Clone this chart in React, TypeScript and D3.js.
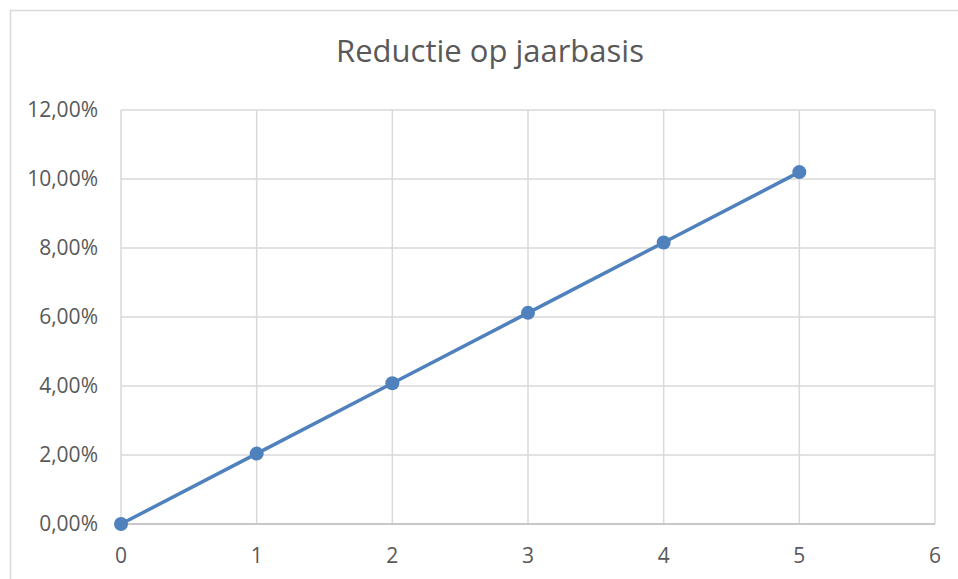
import React, { useRef, useEffect } from 'react'
import * as d3 from 'd3'

// jaar en reductie (als fractie)
const years = [0, 1, 2, 3, 4, 5]
const reduction = [0, 0.0204, 0.0408, 0.0612, 0.0816, 0.102]
const xTicks = [0, 1, 2, 3, 4, 5, 6]
const yTicks = [0, 0.02, 0.04, 0.06, 0.08, 0.1, 0.12]

const title = 'Reductie op jaarbasis'

const App = () => {
  const svgRef = useRef<SVGSVGElement>(null)

  useEffect(() => {
    const width = 958
    const height = 579
    const margin = { top: 110, right: 23, bottom: 55, left: 121 }
    const font = "'Open Sans', sans-serif"
    const textColor = '#595959'
    const gridColor = '#d9d9d9'
    const lineColor = '#4f81bd'

    const svg = d3.select(svgRef.current)
    svg.selectAll('*').remove()
    svg.attr('width', width).attr('height', height)

    svg.append('rect')
      .attr('width', width).attr('height', height)
      .attr('fill', '#fff')

    // chart area border (goes off the picture to the right and bottom)
    svg.append('rect')
      .attr('x', 10.5).attr('y', 10.5)
      .attr('width', 1000).attr('height', 1000)
      .attr('fill', 'none')
      .attr('stroke', gridColor)
      .attr('stroke-width', 1.5)

    const x = d3.scaleLinear()
      .domain([0, 6])
      .range([margin.left, width - margin.right])

    const y = d3.scaleLinear()
      .domain([0, 0.12])
      .range([height - margin.bottom, margin.top])

    const fmt = (v: number) => (v * 100).toFixed(2).replace('.', ',') + '%'

    // grid
    const grid = svg.append('g').attr('stroke', gridColor).attr('stroke-width', 1.5)
    grid.selectAll('line.h')
      .data(yTicks)
      .join('line')
      .attr('class', 'h')
      .attr('x1', x(0)).attr('x2', x(6))
      .attr('y1', d => y(d)).attr('y2', d => y(d))
    grid.selectAll('line.v')
      .data(xTicks)
      .join('line')
      .attr('class', 'v')
      .attr('x1', d => x(d)).attr('x2', d => x(d))
      .attr('y1', y(0)).attr('y2', y(0.12))

    // bottom axis line a bit darker
    svg.append('line')
      .attr('x1', x(0)).attr('x2', x(6))
      .attr('y1', y(0)).attr('y2', y(0))
      .attr('stroke', '#bfbfbf')
      .attr('stroke-width', 1.5)

    // tick labels
    svg.append('g')
      .attr('font-family', font)
      .attr('font-size', 21)
      .attr('fill', textColor)
      .attr('text-anchor', 'end')
      .selectAll('text')
      .data(yTicks)
      .join('text')
      .attr('x', 98)
      .attr('y', d => y(d))
      .attr('dy', '0.35em')
      .text(d => fmt(d))

    svg.append('g')
      .attr('font-family', font)
      .attr('font-size', 21)
      .attr('fill', textColor)
      .attr('text-anchor', 'middle')
      .selectAll('text')
      .data(xTicks)
      .join('text')
      .attr('x', d => x(d))
      .attr('y', 556)
      .attr('dy', '0.35em')
      .text(d => d)

    // title
    svg.append('text')
      .attr('x', 490)
      .attr('y', 62)
      .attr('text-anchor', 'middle')
      .attr('font-family', font)
      .attr('font-size', 31)
      .attr('fill', textColor)
      .text(title)

    const data = years.map((yr, i) => ({ yr, v: reduction[i] }))

    const line = d3.line<{ yr: number; v: number }>()
      .x(d => x(d.yr))
      .y(d => y(d.v))

    svg.append('path')
      .datum(data)
      .attr('d', line)
      .attr('fill', 'none')
      .attr('stroke', lineColor)
      .attr('stroke-width', 3.5)
      .attr('stroke-linejoin', 'round')

    svg.append('g')
      .selectAll('circle')
      .data(data)
      .join('circle')
      .attr('cx', d => x(d.yr))
      .attr('cy', d => y(d.v))
      .attr('r', 7)
      .attr('fill', lineColor)
  }, [])

  return (
    <svg ref={svgRef} style={{ position: 'absolute', left: 0, top: 0 }} />
  )
}

export default App
